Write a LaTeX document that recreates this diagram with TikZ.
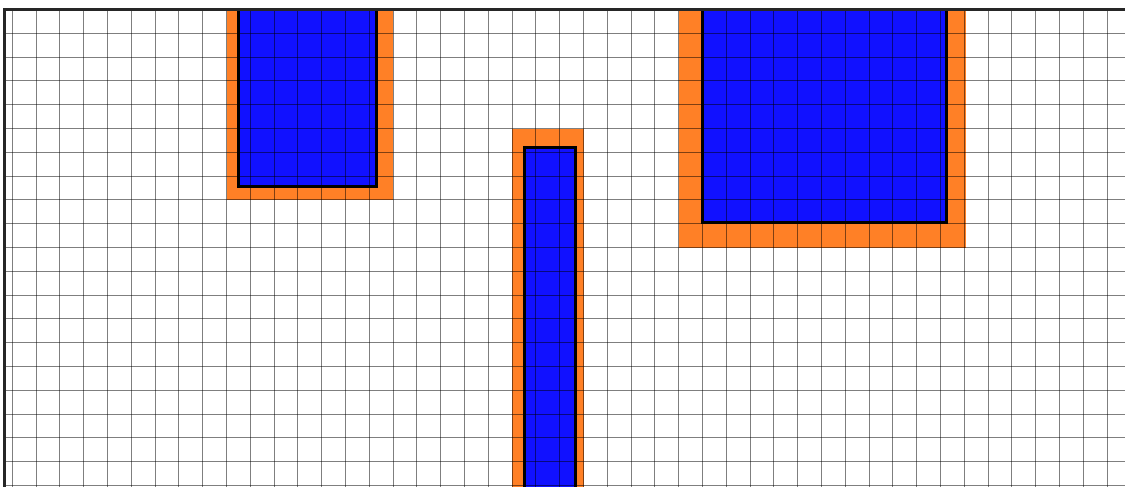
\documentclass[tikz,border=0pt]{standalone}
\usepackage{tikz}

\definecolor{haloorange}{RGB}{255,128,38}
\definecolor{metalblue}{RGB}{17,17,255}

\begin{document}
\begin{tikzpicture}[x=0.5cm,y=-0.5cm,
  halo/.style={fill=haloorange,draw=none},
  metal/.style={fill=metalblue,draw=none},
  metaledge/.style={draw=black,line width=1.8pt},
  gridline/.style={draw=black,draw opacity=0.5,line width=0.6pt},
  frame/.style={draw=black!85,line width=1.8pt}]
\useasboundingbox (-0.517,-0.40) rectangle (46.75,20.02);
\clip (-0.517,-0.40) rectangle (46.75,20.02);
% keep-out zones
\fill[halo] (9,0) rectangle (16,8);
\fill[halo] (21,5) rectangle (24,21);
\fill[halo] (28,0) rectangle (40.05,10.03);
% metal pads
\fill[metal] (9.5,0) rectangle (15.3,7.45);
\fill[metal] (21.5,5.8) rectangle (23.65,21);
\fill[metal] (29,0) rectangle (39.25,8.95);
% grid
\foreach \i in {0,...,46}
  \draw[gridline] (\i,0) -- (\i,20.1);
\foreach \j in {1,...,20}
  \draw[gridline] (-0.3,\j) -- (46.8,\j);
% pad outlines
\draw[metaledge] (9.5,0) -- (9.5,7.45) -- (15.3,7.45) -- (15.3,0);
\draw[metaledge] (21.5,21) -- (21.5,5.8) -- (23.65,5.8) -- (23.65,21);
\draw[metaledge] (29,0) -- (29,8.95) -- (39.25,8.95) -- (39.25,0);
% border
\draw[frame] (-0.31,20.1) -- (-0.31,0) -- (46.8,0);
\end{tikzpicture}
\end{document}
